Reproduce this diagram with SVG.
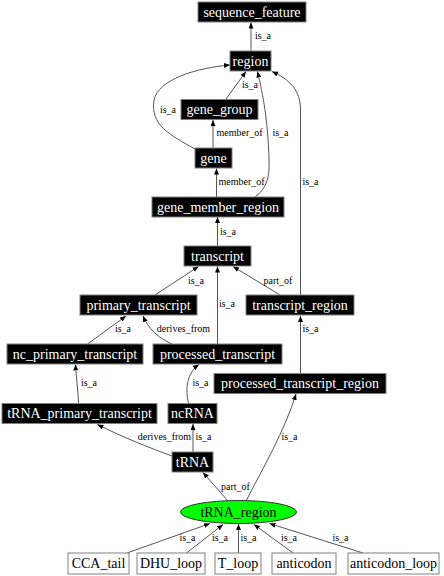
<svg xmlns="http://www.w3.org/2000/svg" width="444" height="576" viewBox="0 0 444 576">
<style>
.n rect{fill:#000;stroke:#808080;stroke-width:1}
.n text{fill:#fff;font-family:"Liberation Serif","Times New Roman",serif;font-size:14px;text-anchor:middle}
.w rect{fill:#fff;stroke:#808080;stroke-width:1}
.w text{fill:#000;font-family:"Liberation Serif","Times New Roman",serif;font-size:14px;text-anchor:middle}
.e path{fill:none;stroke:#555;stroke-width:1;marker-end:url(#ah)}
.e text{fill:#000;font-family:"Liberation Serif","Times New Roman",serif;font-size:10px;text-anchor:middle}
</style>
<defs>
<marker id="ah" markerUnits="userSpaceOnUse" markerWidth="8" markerHeight="6" refX="6" refY="2.5" orient="auto">
<path d="M0,0 L6,2.5 L0,5 z" fill="#000"/>
</marker>
</defs>
<rect width="444" height="576" fill="#fff"/>
<g id="edges" class="e">
<path d="M251,51 L251,22.5"/><text x="263" y="39">is_a</text>
<path d="M226,99 L246,71.5"/><text x="250" y="88">is_a</text>
<path d="M195,149 C170,135 150,125 154,100 C158,80 195,68 230,65"/><text x="168" y="113">is_a</text>
<path d="M213,148 L213,120"/><text x="239.5" y="136">member_of</text>
<path d="M216.5,197 L216.5,168.5"/><text x="241.5" y="185">member_of</text>
<path d="M255,197 C266,189 270,178 269,160 C268,120 263,95 257.5,71.5"/><text x="280.5" y="136">is_a</text>
<path d="M217.5,246 L217.5,217"/><text x="228" y="235">is_a</text>
<path d="M300.5,295 L300.5,110 C300.5,90 290,80 272,71.5"/><text x="310.5" y="185">is_a</text>
<path d="M155,295 L198.5,266.5"/><text x="196" y="284">is_a</text>
<path d="M217.5,344 L217.5,266.5"/><text x="227" y="307">is_a</text>
<path d="M280,295 L233,266.5"/><text x="278" y="284">part_of</text>
<path d="M87.5,344 L126,316"/><text x="123" y="332">is_a</text>
<path d="M172,344 C158,338 148,328 143,316"/><text x="183.5" y="332">derives_from</text>
<path d="M300.5,373.5 L300.5,316"/><text x="310.5" y="332">is_a</text>
<path d="M78.5,403.5 C78,390 76,375 75.5,364.5"/><text x="89" y="386">is_a</text>
<path d="M188.5,403.5 C185,388 187,373 199,364.5"/><text x="200.5" y="386">is_a</text>
<path d="M172,456 C150,448 120,436 97.5,424.5"/><text x="164.5" y="440">derives_from</text>
<path d="M193,452 L193,424"/><text x="203.5" y="440">is_a</text>
<path d="M228,501 L203,472.5"/><text x="235.5" y="490">part_of</text>
<path d="M246,501 C262,470 285,430 296,394"/><text x="289.5" y="440">is_a</text>
<path d="M127,553 L210,523.5"/><text x="187.5" y="541">is_a</text>
<path d="M186.5,553 L223,524.5"/><text x="220" y="541">is_a</text>
<path d="M238.5,553 L238.5,524"/><text x="248.5" y="541">is_a</text>
<path d="M293,553 L254,524.5"/><text x="289" y="541">is_a</text>
<path d="M363,553 L269.5,523.5"/><text x="340.5" y="541">is_a</text>
</g>
<g id="sequence_feature" class="n"><rect x="198" y="2" width="108" height="20"/><text x="252" y="16.5">sequence_feature</text></g>
<g id="region" class="n"><rect x="230" y="51" width="41" height="20"/><text x="250.5" y="65.5">region</text></g>
<g id="gene_group" class="n"><rect x="181" y="99.5" width="77" height="20"/><text x="219.5" y="114">gene_group</text></g>
<g id="gene" class="n"><rect x="195" y="148" width="37" height="20"/><text x="213.5" y="162.5">gene</text></g>
<g id="gene_member_region" class="n"><rect x="152" y="197" width="132" height="20"/><text x="218" y="211.5">gene_member_region</text></g>
<g id="transcript" class="n"><rect x="184" y="246" width="67" height="20"/><text x="217.5" y="260.5">transcript</text></g>
<g id="primary_transcript" class="n"><rect x="80" y="295" width="117" height="20"/><text x="138.5" y="309.5">primary_transcript</text></g>
<g id="transcript_region" class="n"><rect x="246" y="295" width="108" height="20"/><text x="300" y="309.5">transcript_region</text></g>
<g id="nc_primary_transcript" class="n"><rect x="7" y="344" width="136" height="20"/><text x="75" y="358.5">nc_primary_transcript</text></g>
<g id="processed_transcript" class="n"><rect x="153" y="344" width="129" height="20"/><text x="217.5" y="358.5">processed_transcript</text></g>
<g id="processed_transcript_region" class="n"><rect x="214" y="373.5" width="172" height="20"/><text x="300" y="388">processed_transcript_region</text></g>
<g id="tRNA_primary_transcript" class="n"><rect x="2" y="403.5" width="155" height="20"/><text x="79.5" y="418">tRNA_primary_transcript</text></g>
<g id="ncRNA" class="n"><rect x="168" y="403.5" width="49" height="20"/><text x="192.5" y="418">ncRNA</text></g>
<g id="tRNA" class="n"><rect x="172" y="452" width="41" height="20"/><text x="192.5" y="466.5">tRNA</text></g>
<g id="tRNA_region"><ellipse cx="238.5" cy="512" rx="58" ry="11.5" fill="#00ff00" stroke="#333" stroke-width="1"/><text x="238.5" y="516.5" font-family="Liberation Serif,'Times New Roman',serif" font-size="14" text-anchor="middle" fill="#000">tRNA_region</text></g>
<g id="CCA_tail" class="w"><rect x="68" y="553" width="61" height="21"/><text x="98.5" y="568">CCA_tail</text></g>
<g id="DHU_loop" class="w"><rect x="137" y="553" width="68" height="21"/><text x="171" y="568">DHU_loop</text></g>
<g id="T_loop" class="w"><rect x="215" y="553" width="46" height="21"/><text x="238" y="568">T_loop</text></g>
<g id="anticodon" class="w"><rect x="272" y="553" width="64" height="21"/><text x="304" y="568">anticodon</text></g>
<g id="anticodon_loop" class="w"><rect x="348" y="553" width="91" height="21"/><text x="393.5" y="568">anticodon_loop</text></g>
</svg>
